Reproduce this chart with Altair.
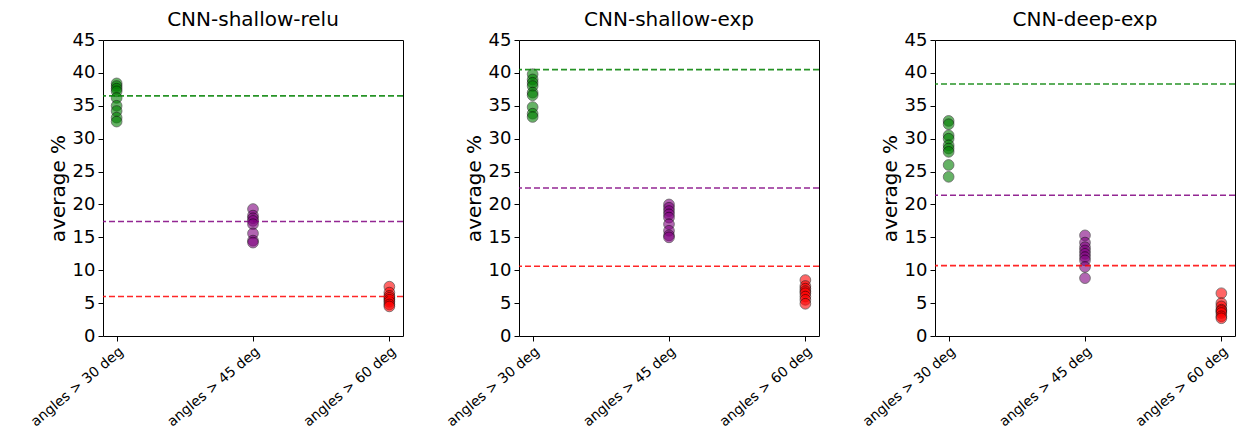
import altair as alt
import pandas as pd

categories = ["angles > 30 deg", "angles > 45 deg", "angles > 60 deg"]
panels = ["CNN-shallow-relu", "CNN-shallow-exp", "CNN-deep-exp"]

relu_30 = [38.4, 38.0, 37.6, 37.2, 36.2, 35.0, 34.2, 33.2, 32.6]
relu_45 = [19.3, 18.3, 17.9, 17.5, 17.0, 15.6, 14.5, 14.2]
relu_60 = [7.5, 6.6, 6.1, 5.8, 5.5, 5.2, 4.8, 4.5]

sexp_30 = [39.8, 39.0, 38.5, 38.0, 37.0, 36.6, 34.8, 33.8, 33.3]
sexp_45 = [20.0, 19.5, 19.0, 18.5, 18.0, 17.0, 16.0, 15.3, 15.0]
sexp_60 = [8.5, 7.6, 7.2, 6.8, 6.5, 6.0, 5.5, 4.9]

deep_30 = [32.7, 32.2, 30.5, 30.0, 29.0, 28.5, 28.0, 26.0, 24.2]
deep_45 = [15.3, 14.2, 13.5, 13.0, 12.5, 12.0, 11.5, 10.5, 8.8]
deep_60 = [6.5, 5.0, 4.5, 4.0, 3.8, 3.5, 3.0, 2.7]

baseline_relu = [36.5, 17.4, 6.0]
baseline_sexp = [40.5, 22.5, 10.6]
baseline_deep = [38.3, 21.4, 10.7]

y_ticks = [0, 5, 10, 15, 20, 25, 30, 35, 40, 45]
colors = ["green", "purple", "red"]

series = {
    panels[0]: [relu_30, relu_45, relu_60],
    panels[1]: [sexp_30, sexp_45, sexp_60],
    panels[2]: [deep_30, deep_45, deep_60],
}
baselines = {panels[0]: baseline_relu, panels[1]: baseline_sexp, panels[2]: baseline_deep}

FONT = "DejaVu Sans"
color_scale = alt.Scale(domain=categories, range=colors)
y_scale = alt.Scale(domain=[0, 45], nice=False, zero=True)
y_axis = alt.Axis(title="average %", values=y_ticks, tickCount=10, grid=False,
                  labelFontSize=18, labelFont=FONT, labelColor="black",
                  labelOverlap=False, labelFlush=False,
                  titleFontSize=20, titleFont=FONT, titleFontWeight="normal",
                  titleColor="black", titlePadding=4,
                  tickSize=5, tickColor="black", domain=False, labelPadding=3)

charts = []
for p in panels:
    rows = []
    for cat, vals in zip(categories, series[p]):
        for v in vals:
            rows.append({"cat": cat, "val": v})
    pts_df = pd.DataFrame(rows)
    base_df = pd.DataFrame({"cat": categories, "val": baselines[p]})

    x = alt.X("cat:N", scale=alt.Scale(type="point", domain=categories, padding=0.1),
              axis=alt.Axis(title=None, labelAngle=-40, labelAlign="right", labelBaseline="top",
                            labelFontSize=14, labelFont=FONT, labelColor="black",
                            tickSize=5, tickColor="black", domain=False, labelPadding=3,
                            labelOverlap=False))

    rules = alt.Chart(base_df).mark_rule(strokeDash=[6, 3], strokeWidth=1.6, opacity=0.85).encode(
        y=alt.Y("val:Q", scale=y_scale, axis=y_axis),
        color=alt.Color("cat:N", scale=color_scale, legend=None),
    )
    points = alt.Chart(pts_df).mark_circle(size=115, opacity=0.6, stroke="black",
                                           strokeWidth=0.8).encode(
        x=x,
        y=alt.Y("val:Q", scale=y_scale, axis=y_axis),
        color=alt.Color("cat:N", scale=color_scale, legend=None),
    )
    layer = alt.layer(points, rules).properties(
        width=300, height=296,
        title=alt.TitleParams(p, fontSize=20, font=FONT, fontWeight="normal", color="black", offset=1),
    )
    charts.append(layer)

chart = alt.hconcat(*charts, spacing=116, bounds="flush").configure_view(
    stroke="black", strokeWidth=1
).properties(padding={"left": 19, "top": 1, "right": 0, "bottom": 0})

chart.save("out.html", embed_options={"renderer": "svg", "actions": False})
